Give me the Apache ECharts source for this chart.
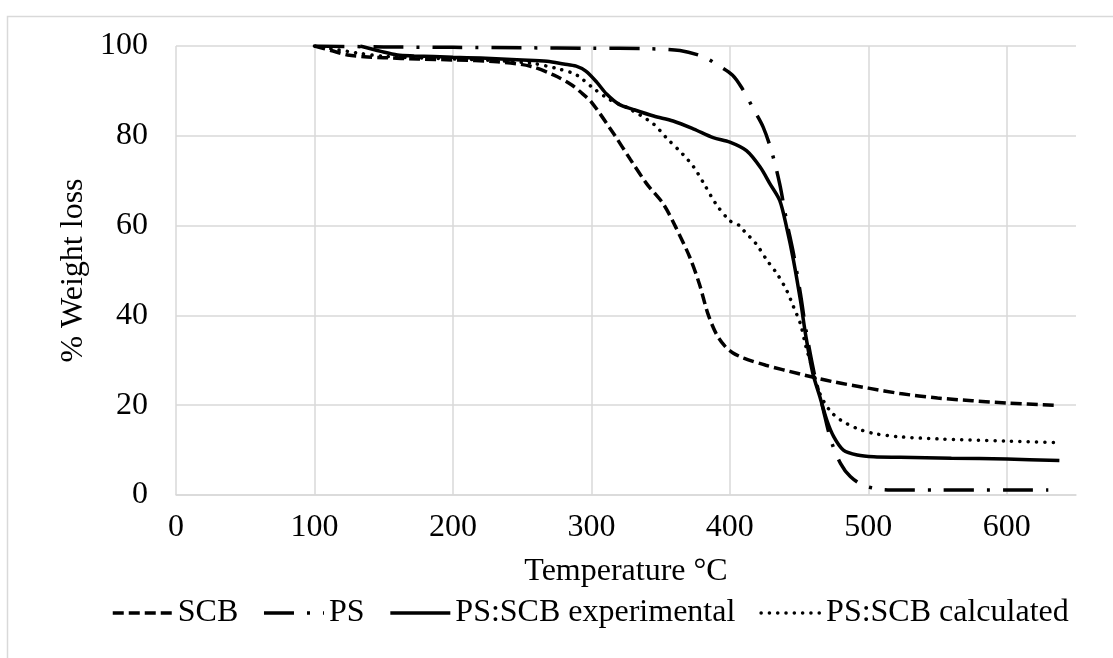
<!DOCTYPE html>
<html>
<head>
<meta charset="utf-8">
<script src="https://cdn.jsdelivr.net/npm/echarts@6/dist/echarts.min.js"></script>
<style>
html,body{margin:0;padding:0;background:#fff;}
#chart{width:1113px;height:658px;}
</style>
</head>
<body>
<div id="chart"></div>
<script>
// ---- Data ----
const seriesNames = ['SCB', 'PS', 'PS:SCB experimental', 'PS:SCB calculated'];

const scbTemp   = [100,112,124,136,150,175,200,232,256,273,285,292,300,316,328,340,352,361,371,378,384,390,396,402,410,426,450,475,500,523,550,575,600,635];
const scbWeight = [100,99,98,97.6,97.4,97.1,96.9,96.5,95.5,93.5,91.5,89.8,87.5,80.5,74.8,69.3,64.8,59.6,53,47,40.5,36,33.3,31.7,30.5,28.9,27,25.2,23.8,22.6,21.6,21,20.5,20];

const psTemp   = [100,150,200,250,300,340,364,381,390,402,409,417,424,430,436,441,446,451,455,461,467,473,480,487,496,508,523,550,600,630];
const psWeight = [100,99.8,99.7,99.6,99.5,99.4,99,97.6,96,93.5,90.5,86,82,76.7,69.3,61,53.7,44.8,36.7,27,19.6,12.2,7,4.1,2.2,1.3,1.1,1.1,1.1,1.1];

const expTemp   = [133,148,160,172,200,220,250,268,280,289,296,304,311,320,330,345,359,374,388,400,412,422,429,436,441,446,451,455,460,465,470,475,482,492,504,523,560,600,638];
const expWeight = [100,98.8,98,97.8,97.5,97.3,96.9,96.6,96,95.5,94.4,91.9,89.3,87,85.9,84.4,83.3,81.5,79.6,78.6,76.7,73,69.3,65.6,59.6,52.2,43.3,35.2,27,21.9,16.7,13,10,8.9,8.5,8.4,8.2,8,7.7];

const calcTemp   = [100,130,150,200,220,256,275,287,292,301,313,328,345,354,366,374,381,390,400,407,410,419,427,434,441,446,451,455,460,465,472,480,492,504,521,550,600,634];
const calcWeight = [100,98.5,97.7,97.1,96.9,96.2,95,93.9,93,90.7,88.1,85.9,82.6,79.6,75.9,73,69.5,64.8,61.1,60,58.9,55.9,52.2,49.3,45.6,41.9,38.1,33,27.8,22.6,18.9,16.7,14.8,13.7,13,12.5,12,11.7];

const xTitle = 'Temperature °C';
const yTitle = '% Weight loss';

// ---- Build ----
function pairs(t, w) { return t.map((v, i) => [v, w[i]]); }
const FONT = "'Liberation Serif', 'Times New Roman', serif";
const FS = 32;
const GRID = '#d9d9d9';

const chart = echarts.init(document.getElementById('chart'), null, {renderer: 'canvas'});
const lineBase = { type: 'line', showSymbol: false, symbol: 'none', smooth: 0.3, animation: false };

chart.setOption({
  backgroundColor: '#fff',
  animation: false,
  graphic: [{
    type: 'rect', left: 5, top: 14, silent: true,
    shape: { width: 1130, height: 700 },
    style: { fill: 'none', stroke: GRID, lineWidth: 1.5 }
  }],
  grid: { left: 176, right: 37, top: 46, bottom: 163 },
  legend: {
    bottom: 24,
    left: 106,
    itemWidth: 60,
    itemHeight: 14,
    itemGap: 24,
    itemStyle: { opacity: 0 },
    lineStyle: { width: 3.5 },
    textStyle: { fontFamily: FONT, fontSize: FS, color: '#000' },
    data: seriesNames
  },
  xAxis: {
    type: 'value', min: 0, max: 650, interval: 100,
    name: xTitle, nameLocation: 'middle', nameGap: 61,
    nameTextStyle: { fontFamily: FONT, fontSize: FS, color: '#000' },
    axisLine: { show: true, lineStyle: { color: GRID, width: 1.5 } },
    axisTick: { show: false },
    axisLabel: { fontFamily: FONT, fontSize: FS, color: '#000', margin: 17, showMaxLabel: false,
      formatter: v => (v % 100 === 0 ? String(v) : '') },
    splitLine: { show: true, showMaxLine: false, lineStyle: { color: GRID, width: 1.5 } }
  },
  yAxis: {
    type: 'value', min: 0, max: 100, interval: 20,
    name: yTitle, nameLocation: 'middle', nameGap: 82, nameRotate: 90,
    nameTextStyle: { fontFamily: FONT, fontSize: FS, color: '#000' },
    axisLine: { show: false },
    axisTick: { show: false },
    axisLabel: { fontFamily: FONT, fontSize: FS, color: '#000', margin: 28 },
    splitLine: { show: true, lineStyle: { color: GRID, width: 1.5 } }
  },
  series: [
    Object.assign({}, lineBase, { name: seriesNames[0], data: pairs(scbTemp, scbWeight),
      lineStyle: { color: '#000', width: 3.5, type: [11, 5] }, itemStyle: { color: '#000' } }),
    Object.assign({}, lineBase, { name: seriesNames[1], data: pairs(psTemp, psWeight),
      lineStyle: { color: '#000', width: 3.5, type: [30, 13, 3, 13] }, itemStyle: { color: '#000' } }),
    Object.assign({}, lineBase, { name: seriesNames[2], data: pairs(expTemp, expWeight),
      lineStyle: { color: '#000', width: 3.5, type: 'solid' }, itemStyle: { color: '#000' } }),
    Object.assign({}, lineBase, { name: seriesNames[3], data: pairs(calcTemp, calcWeight),
      lineStyle: { color: '#000', width: 3.5, type: [0.1, 8.2], cap: 'round' }, itemStyle: { color: '#000' } })
  ]
});
</script>
</body>
</html>
